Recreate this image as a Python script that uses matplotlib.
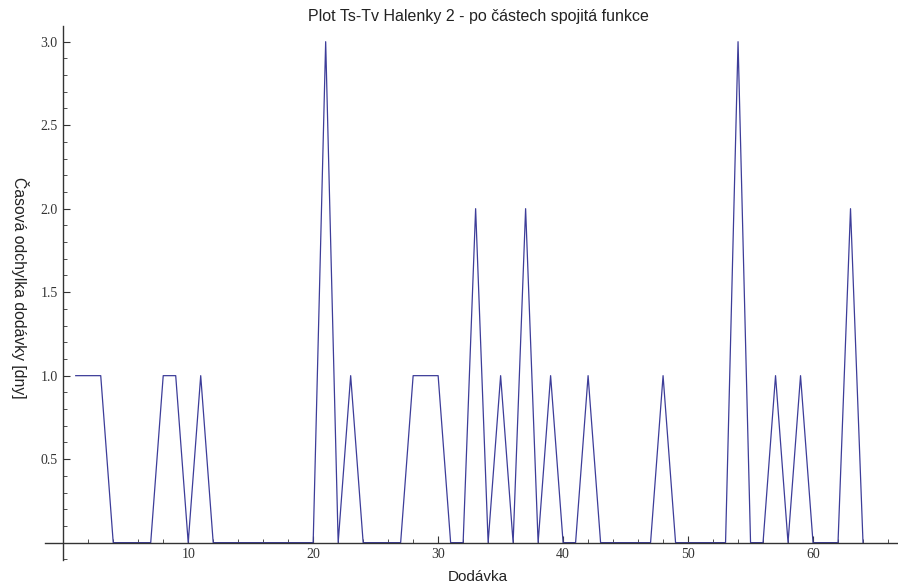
import numpy as np
import matplotlib.pyplot as plt
from matplotlib.ticker import MultipleLocator, FixedLocator

# delivery index and time deviation [days]
dodavka = list(range(1, 65))
odchylka = [1, 1, 1, 0, 0, 0, 0, 1, 1, 0,
            1, 0, 0, 0, 0, 0, 0, 0, 0, 0,
            3, 0, 1, 0, 0, 0, 0, 1, 1, 1,
            0, 0, 2, 0, 1, 0, 2, 0, 1, 0,
            0, 1, 0, 0, 0, 0, 0, 1, 0, 0,
            0, 0, 0, 3, 0, 0, 1, 0, 1, 0,
            0, 0, 2, 0]

x_major = [10, 20, 30, 40, 50, 60]
y_major = [0.5, 1.0, 1.5, 2.0, 2.5, 3.0]

fig = plt.figure(figsize=(8.98, 5.86), dpi=100)
ax = fig.add_axes([45/898, 26/586, 1 - 45/898, 534/586])

ax.plot(dodavka, odchylka, color='#3d3d99', lw=0.9)

ax.set_xlim(-1.46, 66.8)
ax.set_ylim(-0.104, 3.094)

# Mathematica-like axes crossing at origin
ax.spines['left'].set_position(('data', 0))
ax.spines['bottom'].set_position(('data', 0))
ax.spines['right'].set_visible(False)
ax.spines['top'].set_visible(False)
for s in ['left', 'bottom']:
    ax.spines[s].set_linewidth(1.0)
    ax.spines[s].set_color('#333333')

ax.xaxis.set_major_locator(FixedLocator(x_major))
ax.xaxis.set_minor_locator(MultipleLocator(2))
ax.yaxis.set_major_locator(FixedLocator(y_major))
ax.yaxis.set_minor_locator(MultipleLocator(0.1))
ax.set_xticklabels([str(v) for v in x_major])
ax.set_yticklabels(['%.1f' % v for v in y_major])

ax.tick_params(axis='both', which='major', direction='in', length=5, width=0.8,
               color='#333333', labelsize=10, pad=4)
ax.tick_params(axis='both', which='minor', direction='in', length=3, width=0.6,
               color='#333333')
for lab in ax.get_xticklabels() + ax.get_yticklabels():
    lab.set_family('Liberation Serif')
    lab.set_color('#333333')

fig.text(478/898, 1 - 17/586, 'Plot Ts-Tv Halenky 2 - po částech spojitá funkce',
         ha='center', va='center', fontsize=11.5, family='Liberation Sans', color='#222222')
fig.text(478/898, 1 - 577/586, 'Dodávka', ha='center', va='center',
         fontsize=11, family='Liberation Sans', color='#222222')
fig.text(20/898, 1 - 288/586, 'Časová odchylka dodávky [dny]', ha='center', va='center',
         rotation=-90, fontsize=11.3, family='Liberation Sans', color='#222222')

plt.savefig('out.png', dpi=100)
plt.close()
